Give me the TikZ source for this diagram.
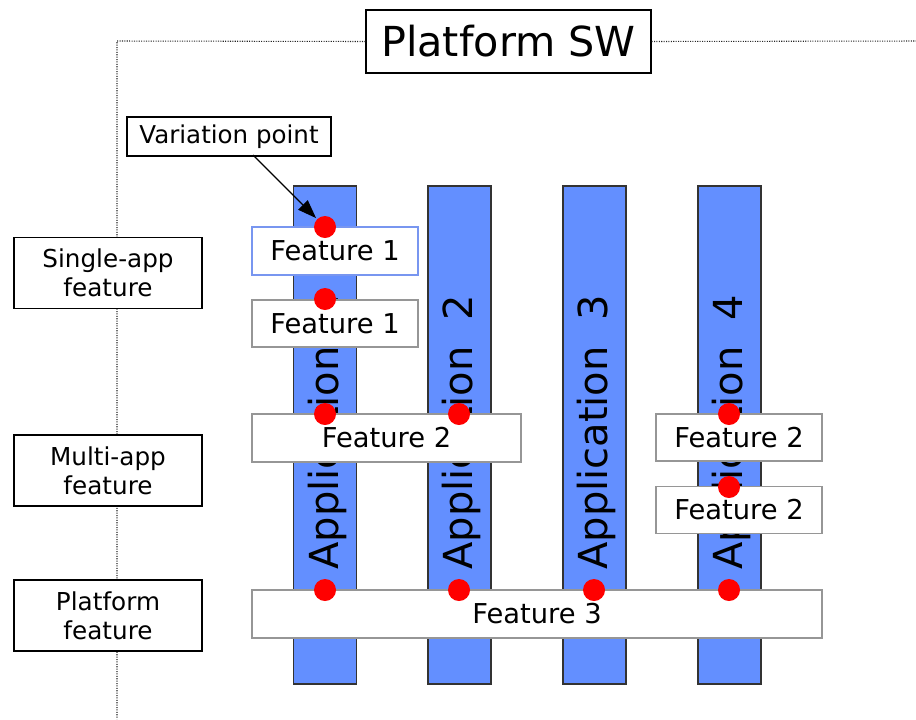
\documentclass[tikz,border=0pt]{standalone}
\usepackage{fontspec}
\setmainfont{DejaVu Sans}
\usetikzlibrary{arrows.meta}
\definecolor{barblue}{RGB}{99,143,255}
\definecolor{fedge}{RGB}{150,150,150}
\definecolor{bedge}{RGB}{120,150,240}
\tikzset{
  bar/.style={draw=black!80, line width=0.8pt, fill=barblue, minimum width=47.25pt, minimum height=373.5pt, inner sep=0pt},
  apptext/.style={rotate=90, anchor=west, font=\fontsize{30}{34}\selectfont, inner sep=0pt},
  feat/.style={draw=fedge, line width=1pt, fill=white, minimum height=36pt, inner sep=0pt, font=\fontsize{20.5}{24}\selectfont},
  lbl/.style={draw=black, line width=0.9pt, fill=white, minimum width=141pt, minimum height=53.25pt, inner sep=0pt, align=center, font=\fontsize{18.5}{21.5}\selectfont},
  vpdot/.style={circle, fill=red, minimum size=16.5pt, inner sep=0pt},
  frame/.style={densely dotted, line width=0.8pt, black!85},
  callarrow/.style={line width=0.9pt, -{Triangle[length=14pt,width=10pt]}, shorten >=1pt}
}
\begin{document}
\begin{tikzpicture}[x=0.75pt,y=-0.75pt]
\useasboundingbox (0,0) rectangle (916,719);
% frame
\coordinate (fcorner) at (117,41);
\coordinate (fbottom) at (117,719);
\coordinate (fright) at (916,41);
\node[draw=black, line width=0.9pt, fill=white, minimum width=213.75pt, minimum height=47.25pt, inner sep=0pt, font=\fontsize{31}{36}\selectfont] (title) at (508.5,41.5) {Platform SW};
\draw[frame] (title.west) -- (fcorner) -- (fbottom);
\draw[frame] (title.east) -- (fright);
% left labels
\node[lbl] (single) at (108,273) {Single-app\\feature};
\node[lbl] (multi) at (108,470.5) {Multi-app\\feature};
\node[lbl] (plat) at (108,615.5) {Platform\\feature};
% bars
\node[bar] (b1) at (325,435) {};
\node[bar] (b2) at (459.5,435) {};
\node[bar] (b3) at (594.5,435) {};
\node[bar] (b4) at (729.5,435) {};
\node[apptext] (t1) at (327,570) {Application\ \ 1};
\node[apptext] (t2) at (461.5,570) {Application\ \ 2};
\node[apptext] (t3) at (596.5,570) {Application\ \ 3};
\node[apptext] (t4) at (731.5,570) {Application\ \ 4};
% features
\node[feat, draw=bedge, minimum width=124.5pt] (f1a) at (335,251) {Feature 1};
\node[feat, minimum width=124.5pt, minimum height=35.25pt] (f1b) at (335,323.5) {Feature 1};
\node[feat, minimum width=201.75pt] (f2a) at (386.5,438) {Feature 2};
\node[feat, minimum width=124.5pt, minimum height=35.25pt] (f2b) at (739,437.5) {Feature 2};
\node[feat, minimum width=124.5pt, minimum height=35.25pt] (f2c) at (739,510) {Feature 2};
\node[feat, minimum width=427.5pt] (f3) at (537,614) {Feature 3};
% dots
\node[vpdot] (d11) at (325,227) {};
\node[vpdot] (d12) at (325,299) {};
\node[vpdot] (d13) at (325,414) {};
\node[vpdot] (d14) at (325,590) {};
\node[vpdot] (d21) at (459,414) {};
\node[vpdot] (d22) at (459,590) {};
\node[vpdot] (d31) at (594,590) {};
\node[vpdot] (d41) at (729,414) {};
\node[vpdot] (d42) at (729,487) {};
\node[vpdot] (d43) at (729,590) {};
% callout
\node[draw=black, line width=0.9pt, fill=white, minimum width=153pt, minimum height=29.25pt, inner sep=0pt, font=\fontsize{18.4}{21}\selectfont] (vp) at (229,136.5) {Variation point};
\coordinate (vpa) at (253,155);
\draw[callarrow] (vpa) -- (d11.135);
\end{tikzpicture}
\end{document}
